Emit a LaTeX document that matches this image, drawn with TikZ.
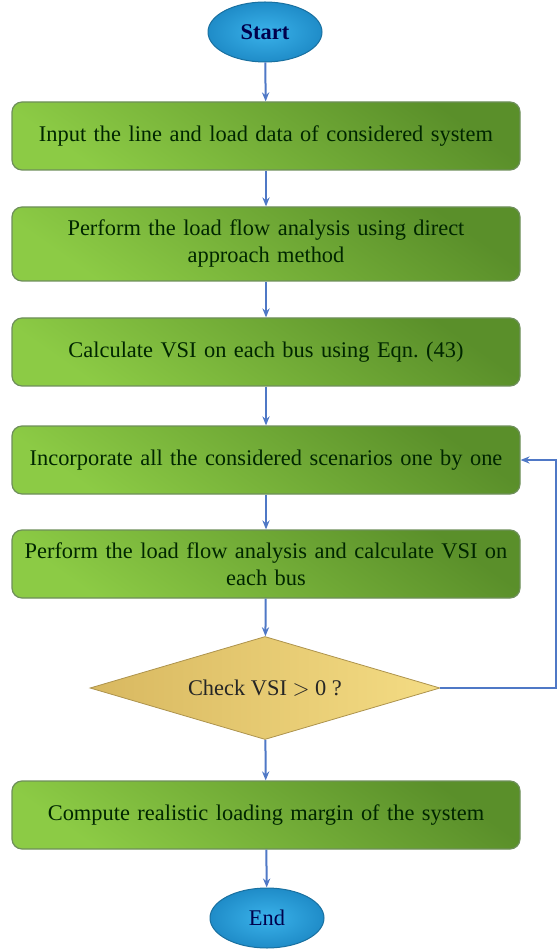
\documentclass[tikz,border=0pt]{standalone}
\usepackage{fontspec}
\setmainfont{Liberation Serif}
\usetikzlibrary{
  shapes.geometric, % For ellipse and diamond
  arrows.meta % For arrow tips
}

\definecolor{boxlight}{HTML}{8CCB45}
\definecolor{boxdark}{HTML}{5A8F2A}
\definecolor{boxedge}{HTML}{6E8F5A}
\definecolor{termlight}{HTML}{3AB2EA}
\definecolor{termdark}{HTML}{1F8CC8}
\definecolor{decdark}{HTML}{D8B860}
\definecolor{declight}{HTML}{F4DC84}
\definecolor{flow}{HTML}{4F78C6}

\begin{document}
\begin{tikzpicture}[
      x=0.5pt, y=-0.5pt, % Pixel coordinates of the reference
      font=\fontsize{11.2}{13.5}\selectfont,
      >={Stealth[length=4.5pt, width=3.6pt]}, % Default arrow tip
      terminal/.style={ellipse, draw=termdark!80!black, line width=0.5pt,
        inner color=termlight, outer color=termdark,
        minimum width=57pt, minimum height=30pt, text=blue!30!black},
      process/.style={rectangle, rounded corners=5pt, draw=boxedge, line width=0.6pt,
        top color=boxdark, bottom color=boxlight, shading angle=-35,
        minimum width=254pt, minimum height=34pt, align=center,
        text width=244pt, text=black!85!green},
      decision/.style={diamond, aspect=3.4, draw=decdark!80!black, line width=0.4pt,
        left color=decdark, right color=declight,
        minimum width=175pt, minimum height=51.5pt, inner sep=0pt, text=black!85},
      flowline/.style={flow, line width=1pt, ->}, % Style for connectors
    ]

    \useasboundingbox (0,0) rectangle (559,951);

    % Start and end
    \node[terminal] (start) at (265,32) {\bfseries Start};
    \node[terminal] (end) at (267,918) {End};

    % Steps
    \node[process] (input) at (266,136) {Input the line and load data of considered system};
    \node[process, minimum height=37pt] (flowan) at (266,244) {Perform the load flow analysis using direct\\approach method};
    \node[process] (vsi) at (266,352) {Calculate VSI on each bus using Eqn.~(43)};
    \node[process] (scen) at (266,460) {Incorporate all the considered scenarios one by one};
    \node[process] (flowvsi) at (266,564) {Perform the load flow analysis and calculate VSI on\\each bus};
    \node[decision] (check) at (265,688) {Check VSI $>$ 0 ?};
    \node[process] (margin) at (266,815) {Compute realistic loading margin of the system};

    % Main flow
    \draw[flowline] (start) -- (input);
    \draw[flowline] (input) -- (flowan);
    \draw[flowline] (flowan) -- (vsi);
    \draw[flowline] (vsi) -- (scen);
    \draw[flowline] (scen) -- (flowvsi);
    \draw[flowline] (flowvsi) -- (check);
    \draw[flowline] (check) -- (margin);
    \draw[flowline] (margin) -- (end);

    % Loop back to the scenarios
    \coordinate (loopa) at (556,688);
    \coordinate (loopb) at (556,460);
    \draw[flowline] (check.east) -- (loopa) -- (loopb) -- (scen.east);

  \end{tikzpicture}
\end{document}
